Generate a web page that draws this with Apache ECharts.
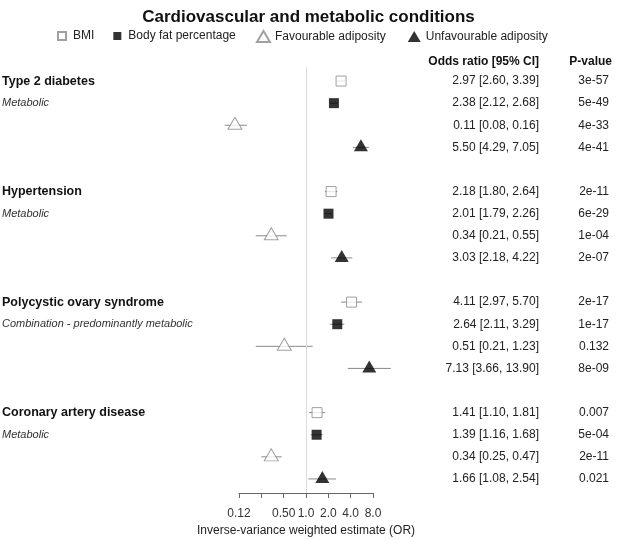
<!DOCTYPE html>
<html>
<head>
<meta charset="utf-8">
<script src="https://cdn.jsdelivr.net/npm/echarts@6/dist/echarts.min.js"></script>
<style>
  html, body { margin: 0; padding: 0; background: #fff; }
  #forest { width: 617px; height: 539px; }
</style>
</head>
<body>
<div id="forest"></div>
<script>
// outcomes and their subtitle
var diseases = ['Type 2 diabetes', 'Hypertension', 'Polycystic ovary syndrome', 'Coronary artery disease'];
var subtitles = ['Metabolic', 'Metabolic', 'Combination - predominantly metabolic', 'Metabolic'];
var exposures = ['BMI', 'Body fat percentage', 'Favourable adiposity', 'Unfavourable adiposity'];

// odds ratios [95% CI] per exposure, one value per disease
var orBMI = [2.97, 2.18, 4.11, 1.41];
var loBMI = [2.60, 1.80, 2.97, 1.10];
var hiBMI = [3.39, 2.64, 5.70, 1.81];
var pBMI = ['3e-57', '2e-11', '2e-17', '0.007'];

var orBF = [2.38, 2.01, 2.64, 1.39];
var loBF = [2.12, 1.79, 2.11, 1.16];
var hiBF = [2.68, 2.26, 3.29, 1.68];
var pBF = ['5e-49', '6e-29', '1e-17', '5e-04'];

var orFav = [0.11, 0.34, 0.51, 0.34];
var loFav = [0.08, 0.21, 0.21, 0.25];
var hiFav = [0.16, 0.55, 1.23, 0.47];
var pFav = ['4e-33', '1e-04', '0.132', '2e-11'];

var orUnfav = [5.50, 3.03, 7.13, 1.66];
var loUnfav = [4.29, 2.18, 3.66, 1.08];
var hiUnfav = [7.05, 4.22, 13.90, 2.54];
var pUnfav = ['4e-41', '2e-07', '8e-09', '0.021'];

var xTickValues = [0.125, 0.25, 0.5, 1, 2, 4, 8];
var xTickLabels = ['0.12', '', '0.50', '1.0', '2.0', '4.0', '8.0'];

var ors = [orBMI, orBF, orFav, orUnfav];
var los = [loBMI, loBF, loFav, loUnfav];
var his = [hiBMI, hiBF, hiFav, hiUnfav];
var ps = [pBMI, pBF, pFav, pUnfav];

// 4 rows per disease plus a blank spacer row
var nRows = diseases.length * 5 - 1;
var rows = [];
var orText = [];
var pText = [];
for (var r = 0; r < nRows; r++) {
    var d = Math.floor(r / 5), e = r % 5;
    rows.push(e === 0 ? '{b|' + diseases[d] + '}' : (e === 1 ? '{i|' + subtitles[d] + '}' : ''));
    if (e < 4) {
        orText.push(ors[e][d].toFixed(2) + ' [' + los[e][d].toFixed(2) + ', ' + his[e][d].toFixed(2) + ']');
        pText.push(ps[e][d]);
    } else {
        orText.push('');
        pText.push('');
    }
}

var ciData = [];
exposures.forEach(function (name, e) {
    diseases.forEach(function (dn, d) {
        ciData.push([los[e][d], his[e][d], d * 5 + e]);
    });
});

function pointData(e) {
    return diseases.map(function (dn, d) { return [ors[e][d], d * 5 + e]; });
}

var FONT = '"Liberation Sans", Arial, Helvetica, sans-serif';
var px = 22.33;            // pixels per doubling
var x1 = 306;              // pixel of OR = 1
var gridLeft = x1 - 4 * px;
var gridRight = x1 + 5 * px;

var openStyle = { color: '#fff', borderColor: '#8a8a8a', borderWidth: 1 };
var fillStyle = { color: '#000' };

var option = {
    animation: false,
    textStyle: { fontFamily: FONT },
    title: {
        text: 'Cardiovascular and metabolic conditions',
        left: 'center',
        top: 4,
        textStyle: { fontSize: 17, fontWeight: 'bold', color: '#111', fontFamily: FONT }
    },
    legend: [
        {
            data: [{ name: exposures[0], icon: 'rect' }, { name: exposures[1], icon: 'rect' }],
            left: 57, top: 30, padding: 0,
            itemWidth: 8, itemHeight: 8, itemGap: 19,
            textStyle: { fontSize: 12, color: '#222', padding: [0, 0, 0, 2] }
        },
        {
            data: [{ name: exposures[2], icon: 'triangle' }, { name: exposures[3], icon: 'triangle' }],
            left: 256, top: 30, padding: 0,
            itemWidth: 13, itemHeight: 11, itemGap: 22,
            textStyle: { fontSize: 12, color: '#222' }
        }
    ],
    graphic: [
        { type: 'text', right: 617 - 539, top: 56, style: { text: 'Odds ratio [95% CI]', font: 'bold 12px ' + FONT, fill: '#111' } },
        { type: 'text', right: 617 - 612, top: 56, style: { text: 'P-value', font: 'bold 12px ' + FONT, fill: '#111' } }
    ],
    grid: [
        { left: gridLeft, right: 617 - gridRight, top: 70, height: 420, outerBoundsMode: 'none', containLabel: false },
        { left: 239, width: 134, top: 67, height: 426, outerBoundsMode: 'none', containLabel: false }
    ],
    xAxis: [
        { gridIndex: 0, type: 'log', logBase: 2, min: 1 / 16, max: 32, show: false },
        {
            gridIndex: 1, type: 'log', logBase: 2, min: 0.125, max: 8, interval: 1,
            axisLine: { lineStyle: { color: '#666' } },
            axisTick: { length: 5, lineStyle: { color: '#666' } },
            splitLine: { show: false },
            axisLabel: {
                fontSize: 12, color: '#333', margin: 15, showMinLabel: true, showMaxLabel: true,
                formatter: function (v) {
                    for (var i = 0; i < xTickValues.length; i++) {
                        if (Math.abs(v - xTickValues[i]) < 1e-6) return xTickLabels[i];
                    }
                    return '';
                }
            },
            name: 'Inverse-variance weighted estimate (OR)',
            nameLocation: 'middle', nameGap: 32,
            nameTextStyle: { fontSize: 12, color: '#222' }
        }
    ],
    yAxis: [
        {
            gridIndex: 0, type: 'category', inverse: true, data: rows,
            axisLine: { show: false }, axisTick: { show: false },
            axisLabel: {
                interval: 0, align: 'left', margin: gridLeft - 2,
                rich: {
                    b: { fontSize: 12.5, fontWeight: 'bold', color: '#111', fontFamily: FONT },
                    i: { fontSize: 11, fontStyle: 'italic', color: '#333', fontFamily: FONT }
                }
            }
        },
        {
            gridIndex: 0, type: 'category', inverse: true, data: rows, position: 'right',
            axisLine: { show: false }, axisTick: { show: false },
            axisLabel: {
                interval: 0, align: 'right', margin: 539 - gridRight, fontSize: 12, color: '#222',
                formatter: function (v, i) { return orText[i]; }
            }
        },
        {
            gridIndex: 0, type: 'category', inverse: true, data: rows, position: 'right',
            axisLine: { show: false }, axisTick: { show: false },
            axisLabel: {
                interval: 0, align: 'right', margin: 609 - gridRight, fontSize: 12, color: '#222',
                formatter: function (v, i) { return pText[i]; }
            }
        },
        { gridIndex: 1, type: 'value', min: 0, max: 1, show: false }
    ],
    series: [
        {
            type: 'scatter', xAxisIndex: 1, yAxisIndex: 3, data: [], silent: true,
            markLine: {
                silent: true, symbol: 'none', label: { show: false },
                lineStyle: { color: '#dcdcdc', type: 'solid', width: 1 },
                data: [{ xAxis: 1 }]
            }
        },
        {
            type: 'custom', xAxisIndex: 0, yAxisIndex: 0, z: 1, silent: true,
            data: ciData,
            encode: { x: [0, 1], y: 2 },
            renderItem: function (params, api) {
                var a = api.coord([api.value(0), api.value(2)]);
                var b = api.coord([api.value(1), api.value(2)]);
                return {
                    type: 'line',
                    shape: { x1: a[0], y1: a[1], x2: b[0], y2: b[1] },
                    style: { stroke: '#8a8a8a', lineWidth: 1 }
                };
            }
        },
        { name: exposures[0], type: 'scatter', z: 3, symbol: 'rect', symbolSize: 10, itemStyle: openStyle, data: pointData(0) },
        { name: exposures[1], type: 'scatter', z: 3, symbol: 'rect', symbolSize: 10, itemStyle: fillStyle, data: pointData(1) },
        { name: exposures[2], type: 'scatter', z: 3, symbol: 'triangle', symbolSize: [14, 12], symbolOffset: [0, -2], itemStyle: openStyle, data: pointData(2) },
        { name: exposures[3], type: 'scatter', z: 3, symbol: 'triangle', symbolSize: [14, 12], symbolOffset: [0, -2], itemStyle: fillStyle, data: pointData(3) }
    ]
};

var myChart = echarts.init(document.getElementById('forest'));
myChart.setOption(option);
</script>
</body>
</html>
